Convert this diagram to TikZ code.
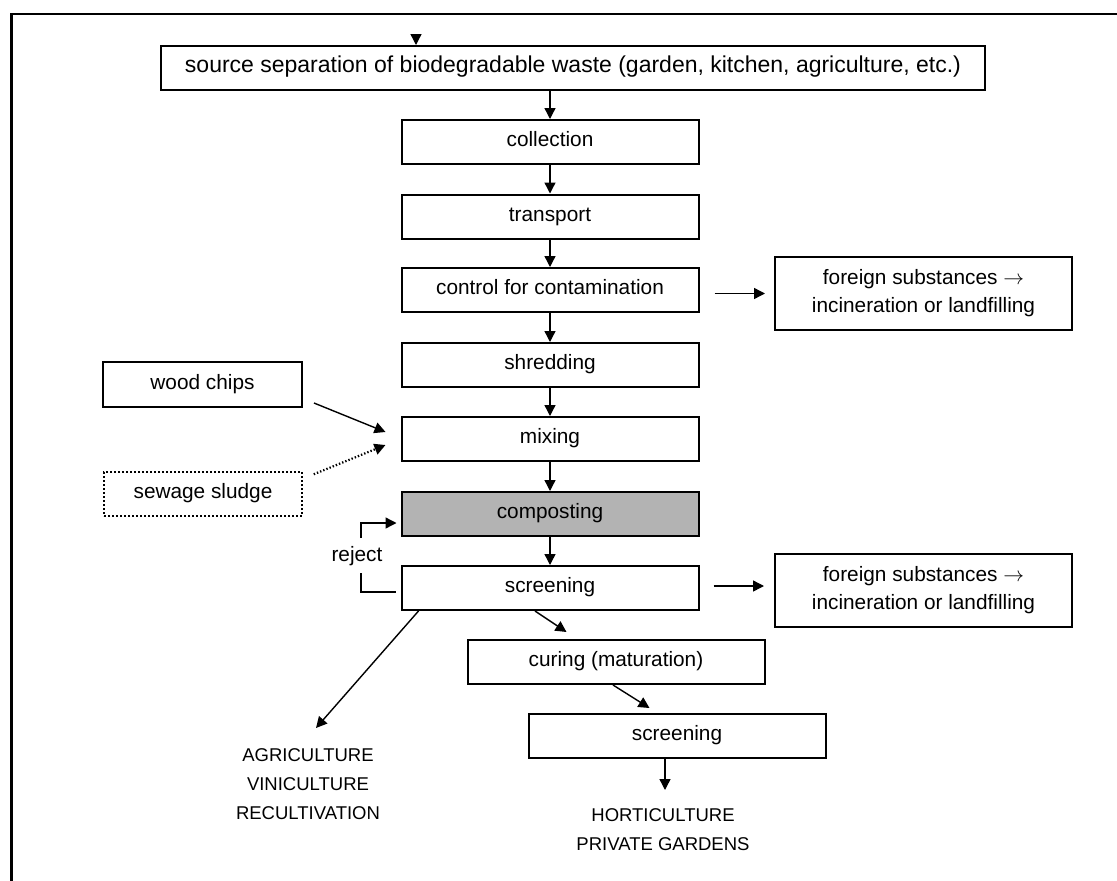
\documentclass[tikz,border=0pt]{standalone}
\usepackage{fontspec}
\setmainfont{Liberation Sans}
\usetikzlibrary{arrows.meta,calc}
\definecolor{compgray}{HTML}{B3B3B3}
\begin{document}
\begin{tikzpicture}[x=1pt,y=-1pt,
  box/.style={draw=black,line width=2pt,inner sep=0pt,minimum width=297pt,minimum height=44pt,
    font=\fontsize{20.8}{28}\selectfont,text height=14.5pt,text depth=5pt,align=center},
  twobox/.style={draw=black,line width=2pt,inner sep=0pt,minimum width=297pt,minimum height=73pt,
    font=\fontsize{20.8}{28}\selectfont,align=center},
  dotbox/.style={box,dotted,line width=1.5pt},
  lbl/.style={inner sep=0pt,font=\fontsize{20.8}{28}\selectfont},
  caps/.style={inner sep=0pt,align=center,font=\fontsize{18.5}{29}\selectfont},
  arr/.style={line width=1.4pt,-{Triangle[length=11pt,width=11pt]}},
  con/.style={line width=1.4pt}]
\useasboundingbox (0,0) rectangle (1117,881);
\fill[white] (0,0) rectangle (1117,881);
% frame
\draw[line width=2.6pt] (11.5,881) -- (11.5,14) -- (1117,14);

% nodes
\node[box,minimum width=824pt,font=\fontsize{23}{28}\selectfont,text height=16pt,text depth=7pt] (src) at (573,68) {source separation of biodegradable waste (garden, kitchen, agriculture, etc.)};
\node[box] (col) at (550,142) {collection};
\node[box] (tra) at (550,216.5) {transport};
\node[box] (ctl) at (550,290) {control for contamination};
\node[box] (shr) at (550,365) {shredding};
\node[box] (mix) at (550,439) {mixing};
\node[box,fill=compgray] (cmp) at (550,514) {composting};
\node[box] (scr) at (550,588) {screening};
\node[twobox] (for1) at (923.5,293.5) {foreign substances $\rightarrow$\\incineration or landfilling};
\node[twobox] (for2) at (923.5,590.5) {foreign substances $\rightarrow$\\incineration or landfilling};
\node[box,minimum width=199pt,minimum height=45pt] (wood) at (202.5,384.5) {wood chips};
\node[dotbox,minimum width=198pt] (sew) at (203,494) {sewage sludge};
\node[box] (cur) at (616,662) {curing (maturation)};
\node[box] (scr2) at (677,736) {screening};
\node[lbl] (rej) at (357,556) {reject};
\node[caps] (agri) at (308,784) {AGRICULTURE\\VINICULTURE\\RECULTIVATION};
\node[caps] (hort) at (663,830) {HORTICULTURE\\PRIVATE GARDENS};

\coordinate (topin) at (416,36);
\coordinate (rjA) at (361,538);
\coordinate (rjB) at (361,573);
\coordinate (agriTip) at (316,728);
\coordinate (hortTip) at (665,790);

% connectors
\draw[arr] (topin) -- (topin |- src.north);
\draw[arr] (col.north |- src.south) -- (col.north);
\draw[arr] (col) -- (tra);
\draw[arr] (tra) -- (ctl);
\draw[arr] (ctl) -- (shr);
\draw[arr] (shr) -- (mix);
\draw[arr] (mix) -- (cmp);
\draw[arr] (cmp) -- (scr);
\draw[arr] ([xshift=15pt,yshift=-3.5pt]ctl.east) -- ([xshift=-9pt]for1.west);
\draw[arr] ([xshift=14pt,yshift=2pt]scr.east) -- ([xshift=-10pt,yshift=4.5pt]for2.west);
\draw[arr] ([xshift=11pt,yshift=5pt]wood.south east) -- ([xshift=-15pt,yshift=7pt]mix.west);
\draw[arr,dotted,line width=2.2pt] ([xshift=11pt,yshift=-3pt]sew.north east) -- ([xshift=-15pt,yshift=-6pt]mix.west);
\draw[arr] (rjA) |- ([xshift=-4pt,yshift=-9pt]cmp.west);
\draw[con] (rjB) |- ([xshift=-5pt,yshift=-4pt]scr.west);
\draw[arr] ([xshift=18pt]scr.south west) -- (agriTip);
\draw[arr] ([xshift=-15pt]scr.south) -- ([xshift=100pt,yshift=7pt]cur.north west);
\draw[arr] ([xshift=-3pt]cur.south) -- ([xshift=122pt,yshift=5pt]scr2.north west);
\draw[arr] (hortTip |- scr2.south) -- (hortTip);
\end{tikzpicture}
\end{document}
